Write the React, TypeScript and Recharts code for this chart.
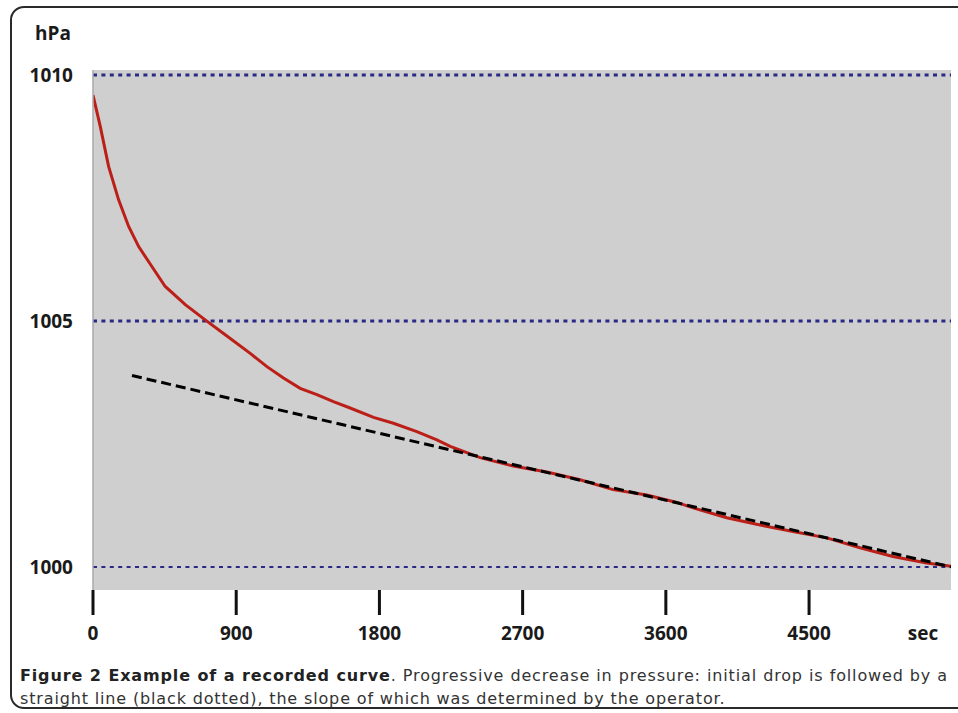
import React from 'react'
import { LineChart, Line, XAxis, YAxis, ReferenceLine, ReferenceArea, Label } from 'recharts'

// time in seconds and recorded pressure in hPa
const SECONDS = [
  0, 46, 98, 161, 224, 287, 371, 454, 580, 705, 831, 988, 1093, 1197, 1302, 1407, 1511, 1616, 1763, 1888,
  2035, 2161, 2245, 2433, 2640, 2852, 3061, 3268, 3480, 3669, 3771, 3983, 4192, 4399, 4611, 4820, 5027, 5239, 5392,
]
const PRESSURE = [
  1009.59, 1008.95, 1008.14, 1007.46, 1006.92, 1006.51, 1006.1, 1005.7, 1005.33, 1005.02, 1004.72, 1004.34,
  1004.07, 1003.84, 1003.63, 1003.5, 1003.36, 1003.23, 1003.04, 1002.92, 1002.75, 1002.58, 1002.45, 1002.22,
  1002.05, 1001.93, 1001.77, 1001.57, 1001.46, 1001.31, 1001.2, 1001.0, 1000.85, 1000.72, 1000.59, 1000.39,
  1000.21, 1000.08, 1000.01,
]

// straight line fitted by the operator
const TREND_SECONDS = [245, 5392]
const TREND_PRESSURE = [1003.89, 1000.0]

const X_TICKS = [0, 900, 1800, 2700, 3600, 4500]
const Y_TICKS = [1000, 1005, 1010]
const X_MAX = 5392
const Y_MIN = 999.53
const Y_MAX = 1010.1

const curve = SECONDS.map((s, i) => ({ t: s, p: PRESSURE[i] }))
const trend = TREND_SECONDS.map((s, i) => ({ t: s, p: TREND_PRESSURE[i] }))

const labelFont = { fontFamily: '"Open Sans", sans-serif', fontWeight: 700, fontSize: 19, fill: '#1a1a1a' }

const XTick = (props: any) => {
  const { x, payload } = props
  return (
    <g>
      <line x1={x} x2={x} y1={590} y2={615} stroke="#111" strokeWidth={3} />
      <text x={x} y={640} textAnchor="middle" style={labelFont}>
        {payload.value}
      </text>
    </g>
  )
}

const YTick = (props: any) => {
  const { y, payload } = props
  return (
    <text x={73} y={y + 7} textAnchor="end" style={labelFont}>
      {payload.value}
    </text>
  )
}

export default function App() {
  return (
    <div style={{ position: 'absolute', left: 0, top: 0, width: 958, height: 713, overflow: 'hidden', background: '#fff' }}>
      <div
        style={{
          position: 'absolute',
          left: 10,
          top: 6,
          width: 980,
          height: 703,
          border: '2px solid #2a2a2a',
          borderRadius: 14,
          boxSizing: 'border-box',
        }}
      />
      <div style={{ position: 'absolute', left: 0, top: 0 }}>
        <LineChart width={958} height={650} margin={{ top: 70, right: 7, bottom: 10, left: 0 }}>
          <ReferenceArea x1={0} x2={X_MAX} y1={Y_MIN} y2={Y_MAX} fill="#cfcfcf" fillOpacity={1} stroke="none" />
          <XAxis
            type="number"
            dataKey="t"
            domain={[0, X_MAX]}
            ticks={X_TICKS}
            allowDataOverflow
            axisLine={false}
            tickLine={false}
            tick={<XTick />}
            height={50}
          >
            <Label
              content={() => (
                <text x={923} y={640} textAnchor="middle" style={labelFont}>
                  sec
                </text>
              )}
            />
          </XAxis>
          <YAxis
            type="number"
            domain={[Y_MIN, Y_MAX]}
            ticks={Y_TICKS}
            allowDataOverflow
            width={93}
            axisLine={{ stroke: '#a8a8a8', strokeWidth: 1.5 }}
            tickLine={false}
            tick={<YTick />}
          >
            <Label
              content={() => (
                <text x={35} y={40} style={labelFont}>
                  hPa
                </text>
              )}
            />
          </YAxis>
          <ReferenceLine y={1010} stroke="#2a2a86" strokeWidth={3} strokeDasharray="4 4.4" />
          <ReferenceLine y={1005} stroke="#2a2a86" strokeWidth={3} strokeDasharray="4 4.4" />
          <ReferenceLine y={1000} stroke="#2a2a86" strokeWidth={2} strokeDasharray="4 4.4" />
          <Line
            data={curve}
            dataKey="p"
            type="linear"
            stroke="#bb1f18"
            strokeWidth={3}
            dot={false}
            isAnimationActive={false}
          />
          <Line
            data={trend}
            dataKey="p"
            type="linear"
            stroke="#000"
            strokeWidth={3}
            strokeDasharray="10 5"
            dot={false}
            isAnimationActive={false}
          />
        </LineChart>
      </div>
      <div
        style={{
          position: 'absolute',
          left: 20,
          top: 664,
          width: 928,
          fontFamily: '"DejaVu Sans", sans-serif',
          fontSize: 16,
          letterSpacing: 0.85,
          lineHeight: '23px',
          color: '#333',
        }}
      >
        <div style={{ textAlign: 'justify', textAlignLast: 'justify' }}>
          <b style={{ color: '#222' }}>Figure 2 Example of a recorded curve</b>. Progressive decrease in pressure: initial
          drop is followed by a
        </div>
        <div>straight line (black dotted), the slope of which was determined by the operator.</div>
      </div>
    </div>
  )
}
